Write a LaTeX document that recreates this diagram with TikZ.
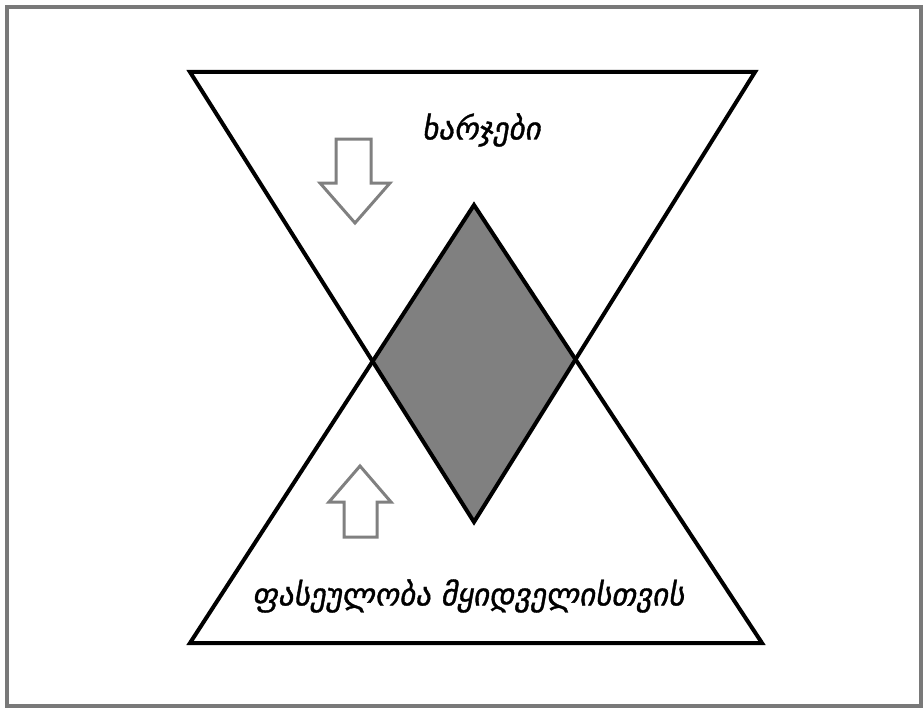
\documentclass[tikz,border=0pt]{standalone}
\usepackage{fontspec}
\newfontfamily\geo{DejaVu Sans}[FakeSlant=0.18,FakeBold=1.2]
\begin{document}
\begin{tikzpicture}[x=1pt,y=-1pt,
  frame/.style={draw=gray!95!black,line width=3.5pt},
  tri/.style={draw=black,line width=4pt,line join=miter},
  core/.style={fill=black!50},
  hollow/.style={draw=black!50,line width=3pt,fill=white,line join=miter},
  label/.style={font=\geo\fontsize{31}{36}\selectfont,inner sep=0pt}]
\useasboundingbox (0,0) rectangle (924,709);
\fill[white] (0,0) rectangle (924,709);
\draw[frame] (7,7) rectangle (921,706);
% triangle corners
\coordinate (TL) at (190,72);
\coordinate (TR) at (755,72);
\coordinate (TA) at (474,522);
\coordinate (BL) at (190,643);
\coordinate (BR) at (762,643);
\coordinate (BA) at (474,205);
\coordinate (DL) at (intersection of TL--TA and BL--BA);
\coordinate (DR) at (intersection of TR--TA and BR--BA);
% shaded overlap
\fill[core] (BA) -- (DR) -- (TA) -- (DL) -- cycle;
\draw[tri] (TL) -- (TR) -- (TA) -- cycle;
\draw[tri] (BL) -- (BR) -- (BA) -- cycle;
% arrows
\draw[hollow] (336,139) -- (371,139) -- (371,183) -- (390,183) -- (355,223) -- (320,183) -- (336,183) -- cycle;
\draw[hollow] (344,537) -- (377,537) -- (377,502) -- (391,502) -- (360,466) -- (329,502) -- (344,502) -- cycle;
% labels
\node[label] (cost) at (481,130) {ხარჯები};
\node[label] (value) at (468,596) {ფასეულობა მყიდველისთვის};
\end{tikzpicture}
\end{document}
